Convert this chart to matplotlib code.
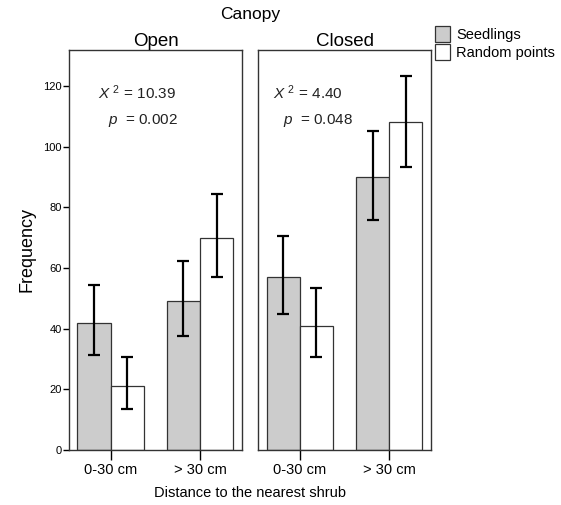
import numpy as np
import matplotlib
matplotlib.use("Agg")
import matplotlib.pyplot as plt
from matplotlib.patches import Patch

plt.rcParams['font.family'] = ['Liberation Sans', 'DejaVu Sans']
plt.rcParams['mathtext.fontset'] = 'custom'
plt.rcParams['mathtext.rm'] = 'Liberation Sans'
plt.rcParams['mathtext.it'] = 'Liberation Sans:italic'

categories = ["0-30 cm", "> 30 cm"]
panels = ["Open", "Closed"]
seedlings = {"Open": [42, 49], "Closed": [57, 90]}
seed_lo = {"Open": [31.4, 37.6], "Closed": [44.8, 75.7]}
seed_hi = {"Open": [54.5, 62.2], "Closed": [70.6, 105.1]}
random_pts = {"Open": [21, 70], "Closed": [41, 108]}
rand_lo = {"Open": [13.6, 56.9], "Closed": [30.5, 93.1]}
rand_hi = {"Open": [30.7, 84.3], "Closed": [53.3, 123.2]}
chi2 = {"Open": "10.39", "Closed": "4.40"}
pval = {"Open": "0.002", "Closed": "0.048"}
yticks = [0, 20, 40, 60, 80, 100, 120]

fig = plt.figure(figsize=(5.61, 5.05), dpi=100)
lefts = [69 / 561, 258.3 / 561]
x = np.arange(len(categories))

for i, name in enumerate(panels):
    ax = fig.add_axes([lefts[i], 1 - 450 / 505, 173 / 561, 400 / 505])
    s = np.array(seedlings[name])
    r = np.array(random_pts[name])
    ax.bar(x - 0.185, s, width=0.37, color='#cccccc', edgecolor='#333333', lw=0.9)
    ax.bar(x + 0.185, r, width=0.37, color='white', edgecolor='#333333', lw=0.9)
    ax.errorbar(x - 0.185, s, yerr=[s - np.array(seed_lo[name]), np.array(seed_hi[name]) - s],
                fmt='none', ecolor='black', elinewidth=1.6, capsize=4, capthick=1.6)
    ax.errorbar(x + 0.185, r, yerr=[r - np.array(rand_lo[name]), np.array(rand_hi[name]) - r],
                fmt='none', ecolor='black', elinewidth=1.6, capsize=4, capthick=1.6)
    ax.set_xlim(-0.465, 1.47)
    ax.set_ylim(0, 131.8)
    ax.set_xticks(x)
    ax.set_xticklabels(categories, fontsize=10.5)
    ax.tick_params(axis='x', length=7, width=1, pad=2)
    for sp in ax.spines.values():
        sp.set_linewidth(1)
        sp.set_color('#333333')
    if i == 0:
        ax.set_yticks(yticks)
        ax.set_yticklabels([str(v) for v in yticks], fontsize=8)
        ax.tick_params(axis='y', length=4, width=1, pad=1)
        ax.set_ylabel("Frequency", fontsize=13, labelpad=6)
    else:
        ax.set_yticks([])
    ax.set_title(name, fontsize=13.5, pad=2)
    ax.text(0.17 if i == 0 else 0.085, 0.893, r"$X$ $^{2}$ = " + chi2[name], transform=ax.transAxes,
            fontsize=11, va='center', ha='left', color='#222222')
    ax.text(0.225 if i == 0 else 0.14, 0.823, r"$p$  = " + pval[name], transform=ax.transAxes,
            fontsize=11, va='center', ha='left', color='#222222')

fig.text(250 / 561, 1 - 14 / 505, "Canopy", fontsize=12.5, ha='center', va='center')
fig.text(250 / 561, 1 - 493 / 505, "Distance to the nearest shrub", fontsize=10.5, ha='center', va='center')

handles = [Patch(facecolor='#cccccc', edgecolor='#333333', lw=0.9, label='Seedlings'),
           Patch(facecolor='white', edgecolor='#333333', lw=0.9, label='Random points')]
fig.legend(handles=handles, loc='upper left', bbox_to_anchor=(435 / 561, 1 - 26 / 505),
           frameon=False, fontsize=10.5, handlelength=1.05, handleheight=1.3,
           handletextpad=0.4, labelspacing=0.15, borderpad=0, borderaxespad=0)

fig.savefig("out.png", dpi=100)
